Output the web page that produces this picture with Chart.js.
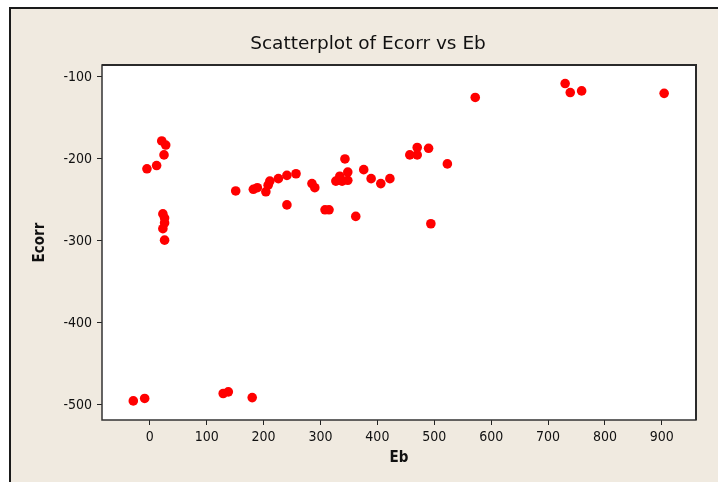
<!DOCTYPE html>
<html>
<head>
<meta charset="utf-8">
<script src="https://cdn.jsdelivr.net/npm/chart.js@4/dist/chart.umd.min.js"></script>
<style>
  html, body { margin: 0; padding: 0; background: #ffffff; overflow: hidden; width: 718px; height: 482px; }
  #frame {
    position: absolute; left: 9px; top: 7px; width: 707px; height: 473px;
    background: #f0eae0; border-left: 2px solid #1a1a1a; border-top: 2px solid #1a1a1a;
  }
  #wrap { position: absolute; left: 0; top: 0; width: 718px; height: 482px; }
</style>
</head>
<body>
<div id="frame"></div>
<div id="wrap"><canvas id="chart" width="718" height="482"></canvas></div>
<script>
// Eb (x) and Ecorr (y) for each specimen
const ebValues = [
  -29, -9, 129, 138, 180,
  -5, 12, 21, 28, 25,
  23, 26, 26, 23, 26,
  151, 182, 189, 204, 208, 211, 226, 241, 257, 241,
  285, 290, 308, 315, 343, 327, 334, 338, 348, 348,
  362, 376, 389, 406, 422, 457, 470, 470, 490, 494,
  523, 572, 730, 739, 759, 904
];
const ecorrValues = [
  -495, -492, -486, -484, -491,
  -212, -208, -178, -183, -195,
  -267, -272, -278, -285, -299,
  -239, -237, -235, -240, -232, -227, -224, -220, -218, -256,
  -230, -235, -262, -262, -200, -227, -221, -227, -216, -226,
  -270, -213, -224, -230, -224, -195, -186, -195, -187, -279,
  -206, -125, -108, -119, -117, -120
];
const xTickValues = [0, 100, 200, 300, 400, 500, 600, 700, 800, 900];
const yTickValues = [-500, -400, -300, -200, -100];

const chartTitle = 'Scatterplot of Ecorr vs Eb';
const xTitle = 'Eb';
const yTitle = 'Ecorr';

const points = ebValues.map((x, i) => ({ x: x, y: ecorrValues[i] }));

// white plot panel, dark frame around it, and the centred heading
const panelPlugin = {
  id: 'panel',
  beforeDraw(chart) {
    const { ctx, chartArea: a } = chart;
    ctx.save();
    ctx.fillStyle = '#ffffff';
    ctx.fillRect(a.left, a.top, a.right - a.left, a.bottom - a.top);
    ctx.restore();
  },
  afterDatasetsDraw(chart) {
    const { ctx, chartArea: a } = chart;
    ctx.save();
    ctx.strokeStyle = '#333333';
    ctx.lineWidth = 1.5;
    ctx.strokeRect(a.left, a.top, a.right - a.left, a.bottom - a.top);
    ctx.strokeStyle = '#2a2a2a';
    ctx.lineWidth = 2;
    ctx.beginPath();
    ctx.moveTo(a.left, a.top);
    ctx.lineTo(a.right, a.top);
    ctx.lineTo(a.right, a.bottom);
    ctx.stroke();
    ctx.fillStyle = '#111111';
    ctx.font = '18.5px "DejaVu Sans"';
    ctx.textAlign = 'center';
    ctx.textBaseline = 'middle';
    ctx.fillText(chartTitle, 368, 44);
    ctx.restore();
  }
};

new Chart(document.getElementById('chart'), {
  type: 'scatter',
  data: {
    datasets: [{
      data: points,
      backgroundColor: '#ff0000',
      borderWidth: 0,
      pointRadius: 4.8,
      pointHoverRadius: 4.8
    }]
  },
  options: {
    responsive: false,
    animation: false,
    events: [],
    layout: { padding: { top: 65, right: 22, left: 0, bottom: 0 } },
    plugins: { legend: { display: false }, tooltip: { enabled: false }, title: { display: false } },
    scales: {
      x: {
        type: 'linear',
        min: -84,
        max: 960,
        afterBuildTicks(scale) { scale.ticks = xTickValues.map(v => ({ value: v })); },
        afterFit(scale) { scale.height = 62; },
        border: { display: false },
        grid: { drawOnChartArea: false, drawTicks: true, tickLength: 5, color: '#222222', lineWidth: 1 },
        ticks: {
          includeBounds: false,
          padding: 4,
          color: '#111111',
          font: { family: '"DejaVu Sans Condensed", "DejaVu Sans"', size: 14 },
          callback: v => String(v)
        },
        title: {
          display: true,
          text: xTitle,
          color: '#111111',
          font: { family: '"DejaVu Sans Condensed", "DejaVu Sans"', size: 15, weight: 'bold' },
          padding: { top: 0, bottom: 14.5 }
        }
      },
      y: {
        type: 'linear',
        min: -518.3,
        max: -85.4,
        afterBuildTicks(scale) { scale.ticks = yTickValues.map(v => ({ value: v })); },
        afterFit(scale) { scale.width = 102; },
        border: { display: false },
        grid: { drawOnChartArea: false, drawTicks: true, tickLength: 5, color: '#222222', lineWidth: 1 },
        ticks: {
          includeBounds: false,
          padding: 5,
          color: '#111111',
          font: { family: '"DejaVu Sans Condensed", "DejaVu Sans"', size: 14 },
          callback: v => String(v)
        },
        title: {
          display: true,
          text: yTitle,
          color: '#111111',
          font: { family: '"DejaVu Sans Condensed", "DejaVu Sans"', size: 15, weight: 'bold' },
          padding: { top: 31, bottom: 0 }
        }
      }
    }
  },
  plugins: [panelPlugin]
});
</script>
</body>
</html>
